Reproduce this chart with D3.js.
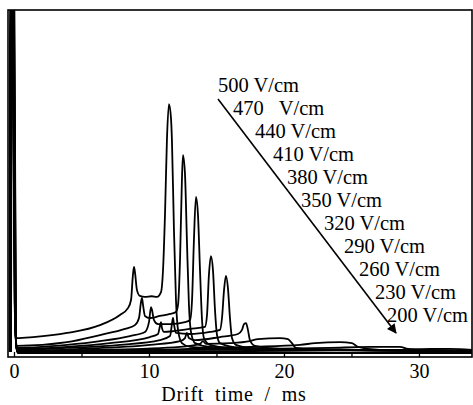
<!DOCTYPE html>
<html>
<head>
<meta charset="utf-8">
<script src="https://cdn.jsdelivr.net/npm/d3@7/dist/d3.min.js"></script>
<style>
html, body { margin: 0; padding: 0; background: #fff; }
svg { display: block; }
</style>
</head>
<body>
<svg id="chart" width="473" height="405"></svg>
<script>
// ---- data (drift time in ms, intensity in arbitrary units) ----
const fieldLabels = ["500 V/cm", "470   V/cm", "440 V/cm", "410 V/cm", "380 V/cm", "350 V/cm",
                     "320 V/cm", "290 V/cm", "260 V/cm", "230 V/cm", "200 V/cm"];
const xTickValues = [0, 10, 20, 30];
const xMinorTicks = [5, 15, 25];
const xTitle = "Drift time / ms";

const c500 = [[-0.32,0],[-0.30,106],[-0.13,106],[0.05,15],[0.22,4.1],[1.41,4.4],[3.93,5.6],[6.37,7.9],[7.85,10.9],
  [8.44,12.9],[8.67,15.3],[8.81,22.6],[8.89,25.0],[8.96,23.5],[9.11,18.2],[9.33,16.5],[9.70,16.2],[10.2,16.4],
  [10.59,16.2],[10.89,17.6],[11.04,24.1],[11.19,40.9],[11.33,62.4],[11.48,72.9],[11.63,68.8],[11.70,62.4],
  [11.85,35.9],[12.0,15.3],[12.15,6.5],[12.44,2.6],[13.04,1.5],[16.0,0.9],[21.2,0.6],[33.93,0.3]];
const c470 = [[-0.31,0],[-0.285,106],[-0.115,106],[0.06,12],[0.22,1.8],[3.93,2.9],[6.37,5.0],[8.22,6.8],[8.96,7.9],
  [9.26,10.0],[9.41,14.7],[9.48,15.9],[9.56,13.8],[9.70,10.6],[10.07,10.0],[10.81,10.6],[11.56,11.2],
  [12.0,11.8],[12.15,13.8],[12.30,27.1],[12.44,50.6],[12.52,57.9],[12.67,52.1],[12.81,32.9],[12.96,13.8],
  [13.11,5.9],[13.41,2.6],[14.52,1.5],[19.7,0.9],[33.93,0.3]];
const c440 = [[-0.30,0],[-0.27,106],[-0.10,106],[0.07,10],[0.22,1.2],[3.93,2.1],[6.37,3.2],[8.59,4.7],[9.70,5.9],
  [10.0,8.8],[10.15,13.2],[10.22,12.4],[10.37,9.4],[10.67,8.2],[11.56,8.2],[12.67,8.8],[13.04,9.4],
  [13.19,15.3],[13.33,32.9],[13.48,45.6],[13.63,40.3],[13.78,24.1],[13.93,9.4],[14.07,4.1],[14.52,2.1],
  [16.0,1.2],[21.19,0.6],[33.93,0.3]];
const c410 = [[-0.29,0],[-0.255,106],[-0.085,106],[0.08,9],[0.22,0.9],[3.93,1.5],[7.11,2.6],[10.07,4.4],[10.67,5.3],
  [10.81,7.6],[10.89,8.8],[10.96,7.1],[11.11,5.9],[11.93,6.2],[13.04,6.8],[14.15,7.4],[14.30,10.9],
  [14.44,22.6],[14.59,28.2],[14.74,24.1],[14.89,12.4],[15.04,5.0],[15.26,2.6],[16.74,1.2],[33.93,0.3]];
const c380 = [[-0.28,0],[-0.24,106],[-0.07,106],[0.09,8],[0.22,0.6],[3.93,1.2],[7.85,2.1],[10.81,3.5],[11.56,4.7],
  [11.70,8.2],[11.78,10.0],[11.85,8.2],[12.0,5.6],[13.04,5.3],[14.52,5.9],[15.26,6.5],[15.41,10.0],
  [15.56,18.2],[15.70,22.4],[15.85,18.8],[16.0,10.0],[16.15,4.1],[16.44,2.1],[18.22,0.9],[33.93,0.3]];
const c350 = [[-0.27,0],[-0.225,106],[-0.055,106],[0.10,7],[0.22,0.3],[4.89,0.9],[10.07,2.1],[12.30,3.2],[12.67,4.1],
  [12.81,5.6],[12.96,4.1],[13.41,3.5],[15.26,4.4],[16.59,5.3],[16.89,6.5],[17.04,8.2],[17.19,8.5],
  [17.33,6.5],[17.48,3.5],[17.85,1.8],[19.7,0.9],[33.93,0.3]];
const c320 = [[-0.26,0],[-0.21,106],[-0.04,106],[0.11,6],[0.22,0.3],[6.37,0.6],[12.30,1.5],[13.78,2.4],[14.0,3.2],
  [14.22,2.4],[16.0,2.6],[17.48,3.2],[18.07,3.8],[19.7,4.1],[20.3,3.8],[20.59,2.6],[20.89,1.2],
  [22.67,0.6],[33.93,0.3]];
const c290 = [[-0.25,0],[-0.195,106],[-0.025,106],[0.12,5],[0.22,0.3],[10.07,0.6],[17.48,1.5],[21.19,2.1],[22.3,2.6],
  [24.15,2.9],[25.04,2.6],[25.48,1.5],[27.11,0.6],[33.93,0.3]];
const c260 = [[-0.24,0],[-0.18,106],[-0.01,106],[0.13,5],[0.22,0.3],[13.78,0.6],[23.41,1.2],[26.37,1.5],[28.59,1.5],
  [29.19,0.9],[30.81,0.6],[33.93,0.3]];
const c230 = [[-0.23,0],[-0.165,106],[0.005,106],[0.14,4],[0.24,0],[17.48,0.3],[28.59,0.6],[30.81,0.9],[32.3,0.9],
  [33.93,0.6]];
const c200 = [[-0.22,0],[-0.15,106],[0.02,106],[0.15,3],[0.26,-0.3],[15.0,-0.3],[33.93,-0.3]];

const curves = [c500, c470, c440, c410, c380, c350, c320, c290, c260, c230, c200];

// ---- layout ----
const FONT = '"Liberation Serif", "Times New Roman", Times, "Nimbus Roman", "DejaVu Serif", serif';
const plot = {left: 8, right: 472, top: 10, bottom: 357};
const labelX = [218, 233, 255, 273, 287, 301, 324, 344, 359, 375, 387];
const labelY0 = 92, labelDY = 23;

const svg = d3.select("#chart");

const x = d3.scaleLinear().domain([-0.444, 33.93]).range([plot.left, plot.right]);
const y = d3.scaleLinear().domain([-1.47, 100.6]).range([plot.bottom, plot.top]);

const defs = svg.append("defs");
defs.append("clipPath").attr("id", "clip")
  .append("rect").attr("x", plot.left).attr("y", plot.top)
  .attr("width", plot.right - plot.left).attr("height", plot.bottom - plot.top);
defs.append("marker").attr("id", "ah")
  .attr("viewBox", "0 0 10 10").attr("refX", 9).attr("refY", 5)
  .attr("markerWidth", 7).attr("markerHeight", 6).attr("orient", "auto")
  .append("path").attr("d", "M0,0 L10,5 L0,10 z").attr("fill", "#000");

const line = d3.line().x(d => x(d[0])).y(d => y(d[1])).curve(d3.curveMonotoneX);

const g = svg.append("g").attr("clip-path", "url(#clip)");
g.selectAll("path.curve").data(curves).join("path")
  .attr("class", "curve")
  .attr("d", line)
  .attr("fill", "none")
  .attr("stroke", "#000")
  .attr("stroke-width", 1.8)
  .attr("stroke-linejoin", "round");

// axis ticks (inward)
const axis = d3.axisBottom(x).tickValues(xTickValues).tickSizeInner(-5).tickSizeOuter(0).tickPadding(7)
  .tickFormat(d3.format("d"));
const ax = svg.append("g").attr("transform", `translate(0,${plot.bottom})`).call(axis)
  .attr("font-family", FONT).attr("font-size", 20);
ax.select(".domain").remove();
ax.selectAll(".tick line").attr("stroke", "#000").attr("stroke-width", 1.3);
ax.selectAll(".tick text").attr("fill", "#000").style("font-family", FONT).style("font-size", "20px");

const axMinor = d3.axisBottom(x).tickValues(xMinorTicks).tickSizeInner(-4).tickSizeOuter(0).tickFormat("");
const am = svg.append("g").attr("transform", `translate(0,${plot.bottom})`).call(axMinor);
am.select(".domain").remove();
am.selectAll(".tick line").attr("stroke", "#000").attr("stroke-width", 1.3);

// frame
svg.append("rect").attr("x", plot.left).attr("y", plot.top)
  .attr("width", plot.right - plot.left).attr("height", plot.bottom - plot.top)
  .attr("fill", "none").attr("stroke", "#000").attr("stroke-width", 1.6);

// axis title
svg.append("text").attr("x", 234).attr("y", 400.5).attr("text-anchor", "middle")
  .style("font-family", FONT).style("font-size", "20px")
  .style("letter-spacing", "0.8px").style("word-spacing", "5px")
  .attr("fill", "#000").text(xTitle);

// field labels
svg.selectAll("text.field").data(fieldLabels).join("text")
  .attr("class", "field")
  .attr("x", (d, i) => labelX[i])
  .attr("y", (d, i) => labelY0 + i * labelDY)
  .style("font-family", FONT)
  .style("font-size", "20.5px")
  .style("white-space", "pre")
  .attr("fill", "#000")
  .text(d => d);

// arrow
svg.append("line").attr("x1", 218).attr("y1", 99).attr("x2", 396).attr("y2", 333)
  .attr("stroke", "#000").attr("stroke-width", 1.6).attr("marker-end", "url(#ah)");
</script>
</body>
</html>
